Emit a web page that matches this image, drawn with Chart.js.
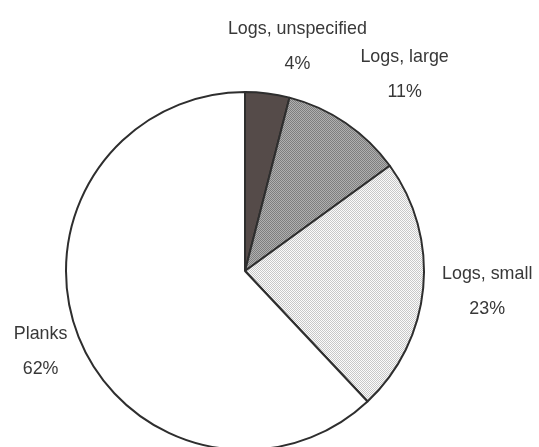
<!DOCTYPE html>
<html>
<head>
<meta charset="utf-8">
<script src="https://cdn.jsdelivr.net/npm/chart.js@4/dist/chart.umd.min.js"></script>
<style>
  html, body { margin: 0; padding: 0; background: #fff; }
  #wrap { width: 539px; height: 447px; overflow: hidden; position: relative; }
  #holder { width: 539px; height: 542px; }
</style>
</head>
<body>
<div id="wrap"><div id="holder"><canvas id="mycanvas"></canvas></div></div>
<script>
// wood raw material shares
var categories = ['Logs, unspecified', 'Logs, large', 'Logs, small', 'Planks'];
var shares = [4, 11, 23, 62];

// small checker fills like the old office charts
function dots(bg, fg) {
    var c = document.createElement('canvas');
    c.width = 2; c.height = 2;
    var g = c.getContext('2d');
    g.fillStyle = bg;
    g.fillRect(0, 0, 2, 2);
    g.fillStyle = fg;
    g.fillRect(0, 0, 1, 1);
    g.fillRect(1, 1, 1, 1);
    return g.createPattern(c, 'repeat');
}

var fills = [
    '#554b49',
    dots('#b0b0b0', '#7e7e7e'),
    dots('#fbfbfb', '#c8c8c8'),
    '#ffffff'
];

// label shift from the rim point at the middle of each slice
var labelShift = [[30, -48], [59, -49], [64, 3], [-38, 14]];

var outsideLabels = {
    id: 'outsideLabels',
    afterDatasetsDraw: function (chart) {
        var ctx = chart.ctx;
        var meta = chart.getDatasetMeta(0);
        ctx.save();
        ctx.font = '19px "Liberation Sans", Arial, sans-serif';
        ctx.fillStyle = '#383838';
        ctx.textAlign = 'center';
        ctx.textBaseline = 'middle';
        meta.data.forEach(function (arc, i) {
            var p = arc.getProps(['x', 'y', 'startAngle', 'endAngle', 'outerRadius'], true);
            var mid = (p.startAngle + p.endAngle) / 2;
            var x = p.x + Math.cos(mid) * p.outerRadius + labelShift[i][0];
            var y = p.y + Math.sin(mid) * p.outerRadius + labelShift[i][1];
            ctx.save();
            ctx.translate(x, y);
            ctx.scale(0.94, 1);
            ctx.fillText(categories[i], 0, -17);
            ctx.fillText(shares[i] + '%', 0, 18);
            ctx.restore();
        });
        ctx.restore();
    }
};

var chartdata = {
    labels: categories,
    datasets: [{
        data: shares,
        backgroundColor: fills,
        borderColor: '#2e2e2e',
        borderWidth: 2
    }]
};

var pie = new Chart(document.getElementById('mycanvas'), {
    type: 'pie',
    data: chartdata,
    options: {
        responsive: true,
        maintainAspectRatio: false,
        animation: false,
        layout: { padding: { left: 65, right: 114, top: 91, bottom: 91 } },
        plugins: {
            legend: { display: false },
            tooltip: { enabled: false }
        }
    },
    plugins: [outsideLabels]
});
</script>
</body>
</html>
